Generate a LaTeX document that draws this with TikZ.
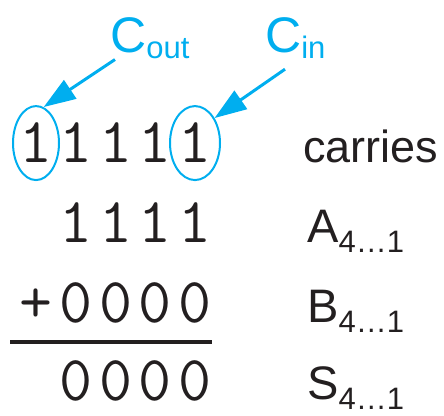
\documentclass[tikz,border=0pt]{standalone}
\usepackage{fontspec}
\setmainfont{Liberation Sans}
\usepackage{tikz}
\usetikzlibrary{arrows.meta,shapes.geometric}
\definecolor{carryblue}{RGB}{0,174,239}
\definecolor{inkblack}{RGB}{35,31,32}
\newcommand{\bitrange}{\raisebox{-10pt}{\fontsize{31}{31}\selectfont 4…1}}
\newcommand{\lowsub}[1]{\raisebox{-6pt}{\fontsize{31}{31}\selectfont #1}}

\begin{document}
\begin{tikzpicture}[x=1pt, y=-1pt,
  digit/.style={inner sep=0pt, anchor=base, text=inkblack,
    font=\fontsize{64}{64}\selectfont\ttfamily},
  tag/.style={inner sep=0pt, anchor=base west, text=inkblack,
    font=\fontsize{47}{47}\selectfont},
  ring/.style={draw=carryblue, line width=2pt, ellipse,
    minimum width=46pt, minimum height=74pt},
  callout/.style={carryblue, line width=3pt,
    -{Triangle[length=32pt,width=22pt]}}]
  \useasboundingbox (0,0) rectangle (444,415);

  % the sum, one node per column
  \foreach \d [count=\i] in {1,1,1,1,1}
    \node[digit] (c\i) at ({36+39.75*(\i-1)},162) {\d};
  \foreach \d [count=\i] in {1,1,1,1}
    \node[digit] (a\i) at ({75.75+39.75*(\i-1)},242) {\d};
  \foreach \d [count=\i] in {+,0,0,0,0}
    \node[digit] (b\i) at ({36+39.75*(\i-1)},322) {\d};
  \draw[line width=3.5pt, inkblack] (10,342) -- (212,342);
  \foreach \d [count=\i] in {0,0,0,0}
    \node[digit] (s\i) at ({75.75+39.75*(\i-1)},400) {\d};

  % names on the right
  \node[tag, font=\fontsize{45}{45}\selectfont] (carries) at (303,162) {carries};
  \node[tag] (alabel) at (307,242) {A\bitrange};
  \node[tag] (blabel) at (307,322) {B\bitrange};
  \node[tag] (slabel) at (307,399) {S\bitrange};

  % carry in / carry out
  \node[ring] (coutring) at ([yshift=-1pt]c1.center) {};
  \node[ring, minimum width=50pt] (cinring) at ([yshift=-1pt]c5.center) {};
  \node[tag, text=carryblue, font=\fontsize{50}{50}\selectfont] (cout) at (110,52) {C\lowsub{out}};
  \node[tag, text=carryblue, font=\fontsize{50}{50}\selectfont] (cin) at (265,52) {C\lowsub{in}};
  \draw[callout] ([xshift=5pt,yshift=-1pt]cout.south west) -- (coutring.78);
  \draw[callout] ([xshift=20pt,yshift=-11pt]cin.south west) -- (cinring.52);
\end{tikzpicture}
\end{document}
